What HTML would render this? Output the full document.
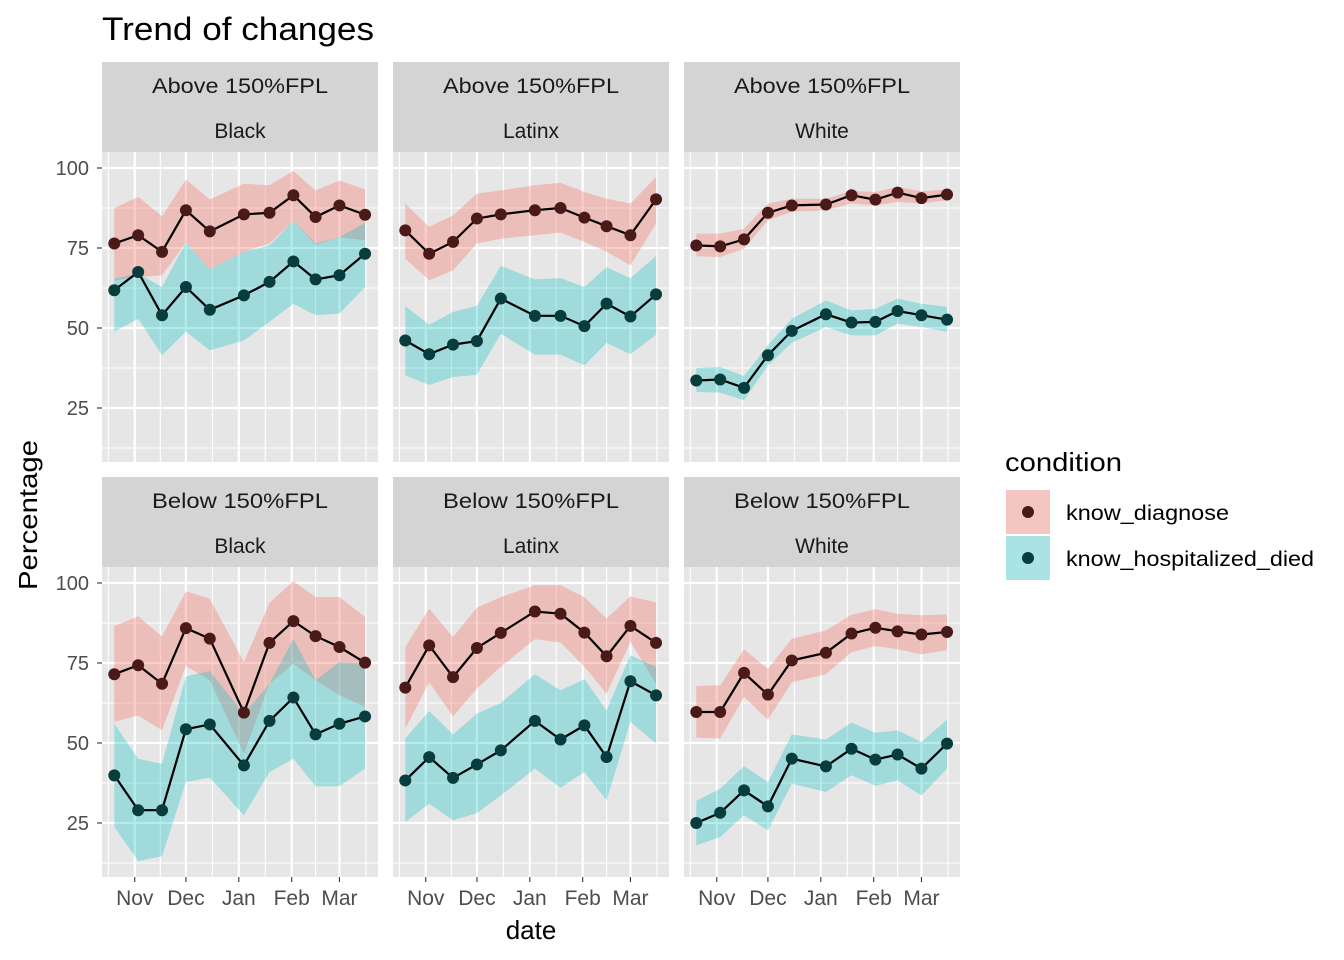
<!DOCTYPE html>
<html><head><meta charset="utf-8"><style>
body{margin:0;background:#fff;}
svg{display:block;font-family:"Liberation Sans",Arial,sans-serif;}
</style></head><body>
<svg id="chart" width="1344" height="960" viewBox="0 0 1344 960"></svg>
<script>
// ---- data ----
const dayOffsets = [-12,2,16,30,44,64,79,93,106,120,135]; // days since Nov 1
const monthLabels = ["Nov","Dec","Jan","Feb","Mar"];
const monthStarts = [0,30,61,92,120];
const minorMonthBounds = [-31,0,30,61,92,120,151];
const yTicks = [25,50,75,100];
const conditions = ["know_diagnose","know_hospitalized_died"];
const incomeRows = ["Above 150%FPL","Below 150%FPL"];
const raceCols = ["Black","Latinx","White"];

// Above / Black
const aBlackDiag = [76.4,79.0,73.8,86.8,80.2,85.5,86.0,91.5,84.7,88.3,85.4];
const aBlackDiagHi = [87.5,91,84.9,96.4,90.2,95.1,94.6,99.1,93,96.1,93.3];
const aBlackDiagLo = [64.9,65.9,66.5,76.7,68.3,73.8,76.4,83.4,76,78.4,77.4];
const aBlackHosp = [61.8,67.5,54,62.8,55.7,60.2,64.4,70.8,65.2,66.5,73.2];
const aBlackHospHi = [65.4,67,62.8,76.7,68.3,73.8,75.8,83.4,76.4,78.4,82.9];
const aBlackHospLo = [48.8,52.9,41.5,48.8,43,46.1,51.9,57.6,54,54.5,62.8];
// Above / Latinx
const aLatDiag = [80.5,73.2,76.9,84.2,85.5,86.8,87.5,84.5,81.8,79,90.2];
const aLatDiagHi = [88.9,81.6,85.2,92,93,94.6,95.4,92.5,90.4,88.9,97.2];
const aLatDiagLo = [71.7,64.9,68,76.4,77.9,79,79.8,76.9,73.8,69.6,82.6];
const aLatHosp = [46.1,41.8,44.8,45.9,59.2,53.8,53.8,50.6,57.6,53.6,60.5];
const aLatHospHi = [56.8,51,55,56.9,69.4,65.2,65.6,62.8,69,65.6,72.5];
const aLatHospLo = [35.2,32.2,34.7,35.4,48.2,41.7,41.7,38.3,45.3,41.8,47.9];
// Above / White
const aWhiteDiag = [75.8,75.5,77.7,86,88.3,88.6,91.5,90.1,92.3,90.6,91.7];
const aWhiteDiagHi = [79.5,79.5,81,88.9,90.4,90.4,92.8,92.5,94.1,92.7,93.3];
const aWhiteDiagLo = [72.4,72.2,74.8,83.6,86.3,86.8,88.9,88.3,89.4,88.9,89.9];
const aWhiteHosp = [33.6,33.9,31.3,41.5,49.1,54.3,51.7,51.9,55.3,54,52.6];
const aWhiteHospHi = [37.5,37.8,35,44.6,52.9,58.6,55.5,56,59.2,57.6,56.6];
const aWhiteHospLo = [30,29.8,27.4,38.3,45.4,50.3,47.7,47.7,51.4,50.3,48.8];
// Below / Black
const bBlackDiag = [71.5,74.3,68.5,85.9,82.6,59.5,81.3,88.1,83.4,80,75.1];
const bBlackDiagHi = [86.5,89.6,83.3,97.4,95.1,75.3,93.8,100.6,95.6,95.6,89.4];
const bBlackDiagLo = [56.6,58.6,54,74.1,69.6,46.7,68.5,74.8,69.6,64.9,61.3];
const bBlackHosp = [39.9,29,29,54.3,55.8,43,56.9,64.2,52.7,56,58.3];
const bBlackHospHi = [56,45.1,43.5,70.8,72.5,59.2,68.5,82.6,69.6,75.3,74.8];
const bBlackHospLo = [23.8,13.1,14.6,37.8,39.2,27.4,40.9,45.1,36.5,36.5,42];
// Below / Latinx
const bLatDiag = [67.3,80.5,70.6,79.7,84.4,91.1,90.4,84.5,77.1,86.6,81.3];
const bLatDiagHi = [80,92,83.1,92.3,95.6,99.3,99.3,95.6,88.9,95.8,93.9];
const bLatDiagLo = [54.5,69,58.3,67,73.8,82.4,81.4,73.8,65.4,81.6,68.5];
const bLatHosp = [38.3,45.6,39.1,43.3,47.7,56.9,51.1,55.5,45.6,69.3,64.9];
const bLatHospHi = [51.4,60,52.7,59.2,62.5,71.5,66.5,69.9,60.2,77.4,73.8];
const bLatHospLo = [25.3,31,25.8,28.1,33.6,42,36,40.9,32.1,56.6,49.8];
// Below / White
const bWhiteDiag = [59.7,59.7,71.9,65.1,75.8,78.2,84.2,86,84.9,83.9,84.7];
const bWhiteDiagHi = [67.8,68,79.3,73.2,82.6,85.2,90.1,91.8,90.4,89.9,90.2];
const bWhiteDiagLo = [51.7,51.4,64.4,57.3,69,71.5,78.4,80.3,79.3,77.7,79];
const bWhiteHosp = [25,28.2,35.2,30.2,45.1,42.7,48.2,44.8,46.4,42,49.8];
const bWhiteHospHi = [31.9,35.7,42.8,37.8,52.7,51.1,56.4,53.2,54,50.3,57.3];
const bWhiteHospLo = [18,20.6,27.4,22.7,37.3,34.7,39.9,36.6,38.3,33.6,42];

const panels = [
 [ [aBlackDiag,aBlackDiagLo,aBlackDiagHi,aBlackHosp,aBlackHospLo,aBlackHospHi],
   [aLatDiag,aLatDiagLo,aLatDiagHi,aLatHosp,aLatHospLo,aLatHospHi],
   [aWhiteDiag,aWhiteDiagLo,aWhiteDiagHi,aWhiteHosp,aWhiteHospLo,aWhiteHospHi] ],
 [ [bBlackDiag,bBlackDiagLo,bBlackDiagHi,bBlackHosp,bBlackHospLo,bBlackHospHi],
   [bLatDiag,bLatDiagLo,bLatDiagHi,bLatHosp,bLatHospLo,bLatHospHi],
   [bWhiteDiag,bWhiteDiagLo,bWhiteDiagHi,bWhiteHosp,bWhiteHospLo,bWhiteHospHi] ]
];

// ---- layout ----
const NS="http://www.w3.org/2000/svg";
const svg=document.getElementById('chart');
const colX=[102,393,684], PW=276;
const rowStripY=[62,477], rowPanelY=[152,567], PH=310;
const xMin=-19.2, xMax=142.6, yMin=8.125, yMax=105;
function xs(c,d){return colX[c]+(d-xMin)/(xMax-xMin)*PW;}
function ys(r,v){return rowPanelY[r]+PH-(v-yMin)/(yMax-yMin)*PH;}
function el(tag,attrs,parent,text){const e=document.createElementNS(NS,tag);for(const k in attrs)e.setAttribute(k,attrs[k]);if(text!==undefined)e.textContent=text;(parent||svg).appendChild(e);return e;}

const title=el('text',{x:102,y:40,'font-size':32,fill:'#000',textLength:272,lengthAdjust:'spacingAndGlyphs'},svg,'Trend of changes');



const fills=['rgba(248,118,109,0.36)','rgba(0,191,196,0.3)'];
const ptFill=['#4a1a18','#083c3d'];

for(let r=0;r<2;r++){
 for(let c=0;c<3;c++){
  const g=el('g',{});
  
  
  const sy=rowStripY[r];
  const st=el('rect',{x:colX[c],y:sy,width:PW,height:90,fill:'#D4D4D4'},g);
  
  
  const t1=el('text',{x:colX[c]+PW/2,y:sy+31,'font-size':21,'text-anchor':'middle',fill:'#1A1A1A',textLength:176,lengthAdjust:'spacingAndGlyphs'},g,incomeRows[r]);
  
  
  const t2=el('text',{x:colX[c]+PW/2,y:sy+76,'font-size':21,'text-anchor':'middle',fill:'#1A1A1A'},g,raceCols[c]);
  
  
  const py=rowPanelY[r];
  const bg=el('rect',{x:colX[c],y:py,width:PW,height:PH,fill:'#E6E6E6'},g);
  
  
  for(let i=0;i<minorMonthBounds.length-1;i++){
   const d=(minorMonthBounds[i]+minorMonthBounds[i+1])/2;
   if(d<xMin||d>xMax)continue;
   const x=xs(c,d);
   el('line',{x1:x,x2:x,y1:py,y2:py+PH,stroke:'#fff','stroke-width':1.1},g);
  }
  for(let i=0;i<yTicks.length+1;i++){
   const v=(i===0?yTicks[0]-12.5:yTicks[i-1]+12.5);
   if(v<yMin||v>yMax)continue;
   const y=ys(r,v);
   el('line',{x1:colX[c],x2:colX[c]+PW,y1:y,y2:y,stroke:'#fff','stroke-width':1.1},g);
  }
  monthStarts.forEach(d=>{const x=xs(c,d);el('line',{x1:x,x2:x,y1:py,y2:py+PH,stroke:'#fff','stroke-width':2.2},g);});
  yTicks.forEach(v=>{const y=ys(r,v);el('line',{x1:colX[c],x2:colX[c]+PW,y1:y,y2:y,stroke:'#fff','stroke-width':2.2},g);});
  const P=panels[r][c];
  for(let s=0;s<2;s++){
   const lo=P[s*3+1],hi=P[s*3+2];
   let d='';
   dayOffsets.forEach((dd,i)=>{d+=(i?'L':'M')+xs(c,dd).toFixed(1)+','+ys(r,hi[i]).toFixed(1);});
   for(let i=dayOffsets.length-1;i>=0;i--)d+='L'+xs(c,dayOffsets[i]).toFixed(1)+','+ys(r,lo[i]).toFixed(1);
   const rib=el('path',{d:d+'Z',fill:fills[s]},g);
   
   
  }
  for(let s=0;s<2;s++){
   const val=P[s*3];
   const pts=dayOffsets.map((dd,i)=>xs(c,dd).toFixed(1)+','+ys(r,val[i]).toFixed(1)).join(' ');
   const ln=el('polyline',{points:pts,fill:'none',stroke:'#000','stroke-width':2.2},g);
   
   
   dayOffsets.forEach((dd,i)=>{
    const p=el('circle',{cx:xs(c,dd),cy:ys(r,val[i]),r:6,fill:ptFill[s]},g);
    
    
   });
  }
  if(c===0){
   yTicks.forEach(v=>{const y=ys(r,v);
    el('line',{x1:97,x2:102,y1:y,y2:y,stroke:'#333','stroke-width':1.1},g);
    const tl=el('text',{x:89,y:y+7,'font-size':20,'text-anchor':'end',fill:'#4D4D4D'},g,String(v));
    
    
   });
  }
  if(r===1){
   monthStarts.forEach((d,i)=>{const x=xs(c,d);
    el('line',{x1:x,x2:x,y1:py+PH,y2:py+PH+5,stroke:'#333','stroke-width':1.1},g);
    const tl=el('text',{x:x,y:905,'font-size':21,'text-anchor':'middle',fill:'#4D4D4D'},g,monthLabels[i]);
    
    
   });
  }
 }
}
const xt=el('text',{x:531,y:939,'font-size':26,'text-anchor':'middle',fill:'#000'},svg,'date');


const yt=el('text',{x:0,y:0,'font-size':26,'text-anchor':'middle',fill:'#000',transform:'translate(37,515) rotate(-90)',textLength:150,lengthAdjust:'spacingAndGlyphs'},svg,'Percentage');



const lg=el('g',{});


const lt=el('text',{x:1005,y:471,'font-size':26,fill:'#000',textLength:117,lengthAdjust:'spacingAndGlyphs'},lg,'condition');


const legendLens=[163,248];
conditions.forEach((cn,i)=>{
 const y0=490+i*46;
 const e=el('g',{},lg);
 
 
 el('rect',{x:1006,y:y0,width:44,height:44,fill:'#F2F2F2'},e);
 el('rect',{x:1006,y:y0,width:44,height:44,fill:fills[i]},e);
 el('circle',{cx:1028,cy:y0+22,r:6,fill:ptFill[i]},e);
 el('text',{x:1066,y:y0+30,'font-size':21,fill:'#000',textLength:legendLens[i],lengthAdjust:'spacingAndGlyphs'},e,cn);
});
</script>
</body></html>
